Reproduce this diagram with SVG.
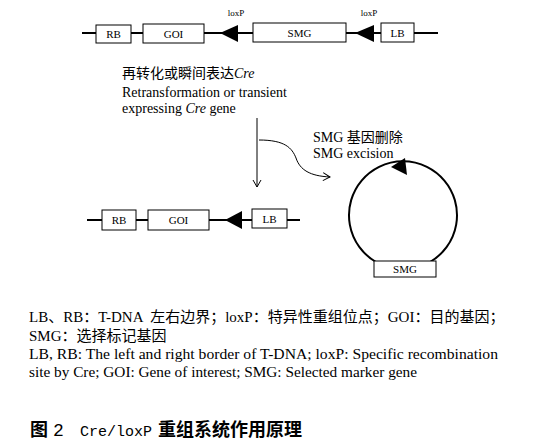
<svg xmlns="http://www.w3.org/2000/svg" width="534" height="447" viewBox="0 0 534 447">
<style>
.bx{fill:#fff;stroke:#000;stroke-width:1}
.ln{stroke:#000;stroke-width:2;fill:none}
.lb{font-family:"Liberation Serif",serif;font-size:11px;text-anchor:middle}
.lx{font-family:"Liberation Serif",serif;font-size:9px;text-anchor:middle}
.t{font-family:"Liberation Serif","Noto Sans CJK SC",serif;font-size:14px}
.lg{font-family:"Liberation Serif","Noto Sans CJK SC",serif;font-size:15px;white-space:pre}
.cj{font-family:"Noto Sans CJK SC",sans-serif}
.cap{font-family:"Noto Sans CJK SC",sans-serif;font-size:18px;font-weight:bold}
.mono{font-family:"Liberation Mono",monospace;font-weight:normal}
</style>
<defs>
<marker id="oa" markerWidth="10" markerHeight="10" refX="8" refY="5" orient="auto" markerUnits="userSpaceOnUse">
<path d="M1,1 L8,5 L1,9" fill="none" stroke="#000" stroke-width="1"/>
</marker>
</defs>
<g id="connectors">
<line class="ln" x1="82" y1="33" x2="438" y2="33"/>
<line class="ln" x1="87" y1="220" x2="300" y2="220"/>
<line x1="257" y1="118" x2="257" y2="187" stroke="#000" stroke-width="1" marker-end="url(#oa)"/>
<path d="M259,140 C285,140 292,148 296,158 C300,170 310,176 330,177" fill="none" stroke="#000" stroke-width="1" marker-end="url(#oa)"/>
<path class="ln" d="M376,262 A54,54 0 1 1 430,262"/>
</g>
<g id="top-RB"><rect class="bx" x="96" y="25" width="35" height="18"/><text class="lb" x="113.5" y="38">RB</text></g>
<g id="top-GOI"><rect class="bx" x="143" y="24" width="61" height="19"/><text class="lb" x="173.5" y="38">GOI</text></g>
<g id="top-loxP1"><polygon points="220,33 238,25 238,42"/><text class="lx" x="236" y="16">loxP</text></g>
<g id="top-SMG"><rect class="bx" x="253" y="23" width="93" height="19"/><text class="lb" x="299.5" y="37">SMG</text></g>
<g id="top-loxP2"><polygon points="355,33 374,25 374,42"/><text class="lx" x="369" y="16">loxP</text></g>
<g id="top-LB"><rect class="bx" x="381" y="23" width="33" height="19"/><text class="lb" x="397.5" y="37">LB</text></g>
<g id="step-label">
<text class="t" x="122" y="78"><tspan class="cj">再转化或瞬间表达</tspan><tspan font-style="italic">Cre</tspan></text>
<text class="t" x="122" y="97">Retransformation or transient</text>
<text class="t" x="122" y="113">expressing <tspan font-style="italic">Cre</tspan> gene</text>
</g>
<g id="excision-label">
<text class="t" x="313" y="142">SMG <tspan class="cj">基因删除</tspan></text>
<text class="t" x="313" y="158">SMG excision</text>
</g>
<g id="bottom-RB"><rect class="bx" x="102" y="210" width="34" height="20"/><text class="lb" x="119" y="224">RB</text></g>
<g id="bottom-GOI"><rect class="bx" x="148" y="210" width="61" height="20"/><text class="lb" x="178.5" y="224">GOI</text></g>
<g id="bottom-loxP"><polygon points="225,220 242,211 242,229"/></g>
<g id="bottom-LB"><rect class="bx" x="252" y="209" width="35" height="19"/><text class="lb" x="269.5" y="223">LB</text></g>
<g id="circle-loxP"><polygon points="391,167 405,158 407,175"/></g>
<g id="circle-SMG"><rect class="bx" x="374" y="261" width="62" height="16"/><text class="lb" x="405" y="273">SMG</text></g>
<g id="legend">
<text class="lg" x="29" y="322">LB<tspan class="cj">、</tspan>RB<tspan class="cj">：</tspan>T-DNA  <tspan class="cj">左右边界；</tspan>loxP<tspan class="cj">：特异性重组位点；</tspan>GOI<tspan class="cj">：目的基因；</tspan></text>
<text class="lg" x="29" y="341">SMG<tspan class="cj">：选择标记基因</tspan></text>
<text class="lg" x="29" y="359" textLength="469" lengthAdjust="spacingAndGlyphs">LB, RB: The left and right border of T-DNA; loxP: Specific recombination</text>
<text class="lg" x="29" y="377" textLength="388" lengthAdjust="spacingAndGlyphs">site by Cre; GOI: Gene of interest; SMG: Selected marker gene</text>
</g>
<g id="caption">
<text class="cap" y="436"><tspan x="30">图</tspan><tspan class="mono" x="53">2</tspan><tspan class="mono" x="80" font-size="15px">Cre/loxP</tspan><tspan x="158">重组系统作用原理</tspan></text>
</g>
</svg>
